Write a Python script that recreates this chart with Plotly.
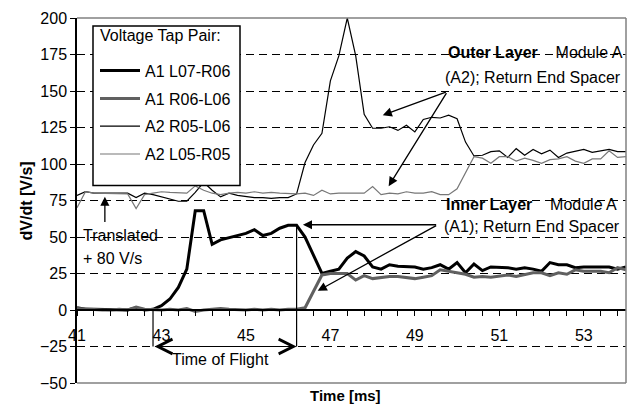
import plotly.graph_objects as go

# ---------------- data ----------------
time_ms = [round(41 + 0.2 * i, 1) for i in range(66)]   # sample times, 0.2 ms grid

a1_l07_r06 = [1.5, 0.5, 0.5, 0.5, 0, 0, 0, 1.5, 0, 0.5,
              3, 7.5, 15.5, 28, 68, 68, 45, 48, 49.5, 51.5,
              52.5, 55, 51, 52.5, 56, 58, 58, 50, 37, 25,
              26.5, 28, 35.5, 40, 37, 29.5, 28, 31, 30, 29.5,
              29.5, 28, 29, 31, 28, 32.5, 25.5, 31.5, 27, 29.5,
              29.5, 29, 28, 29, 28, 26.5, 32.5, 31, 31, 29,
              29.5, 29.5, 29.5, 29.5, 28, 29.5]

a1_r06_l06 = [1, 0.5, 0, 0, 0, 0.5, 0, 2, 0.5, 0,
              0, 0.5, 0, 1, -1, 0, 0.5, 1, 0.5, 0,
              0, 0.5, 0, 0.5, 0, 0.5, 0.5, 1.5, 13, 24,
              25, 25, 25, 20.5, 23.5, 21.5, 22.5, 23, 23, 22.5,
              21.5, 22.5, 23.5, 27.5, 26.5, 25, 24.5, 22.5, 23, 22.5,
              23.5, 24, 23, 24.5, 25.5, 25.5, 23.5, 25.5, 24.5, 27.5,
              26.5, 26.5, 26.5, 25.5, 29, 27.5]

a2_r05_l06 = [78.5, 81, 80, 80, 80, 80, 80, 77, 80, 79,
              77.5, 76, 74.5, 74.5, 80.5, 87.5, 82, 77.5, 80, 78.5,
              77.5, 77, 77, 76.5, 77, 77, 79.5, 101, 113, 121,
              157, 174, 200, 174, 134, 124.5, 124.5, 125.5, 123, 126.5,
              122, 130.5, 132, 131.5, 133.5, 131, 115, 105.5, 106, 108.5,
              109, 104.5, 110.5, 106, 110, 107, 109.5, 104.5, 107.5, 108.5,
              110, 108, 109, 110, 108.5, 108.5]

a2_l05_r05 = [70, 81, 80, 80, 80, 80, 79.5, 69.5, 79, 80,
              81, 80.5, 80, 80, 85, 82, 80, 79, 80, 80.5,
              80, 81, 80, 80.5, 80, 79.5, 79.5, 80, 78.5, 82,
              79.5, 80, 80, 80, 80, 84.5, 79, 80, 79.5, 81,
              80, 80, 81, 79, 79, 83, 94.5, 105, 104, 100.5,
              105, 105, 102, 104, 102.5, 100.5, 103, 103.5, 105, 102,
              100.5, 103.5, 103.5, 109, 104.5, 105]

series_names = ["A1 L07-R06", "A1 R06-L06", "A2 R05-L06", "A2 L05-R05"]
series_values = [a1_l07_r06, a1_r06_l06, a2_r05_l06, a2_l05_r05]
series_colors = ["#000000", "#606060", "#000000", "#777777"]
series_widths = [3, 3, 1.2, 1.2]

x_ticks_major = 2
y_ticks_major = 25

FONT = "Arial, Liberation Sans, sans-serif"

fig = go.Figure()
for i, (name, vals, col, w) in enumerate(zip(series_names, series_values, series_colors, series_widths)):
    fig.add_trace(go.Scatter(
        x=time_ms, y=vals, name=name, mode="lines",
        line=dict(color=col, width=w),
        legendgroup=f"g{i}",
    ))

def txt(x, y, s, xanchor="left", xref="x", yref="y", **kw):
    d = dict(x=x, y=y, xref=xref, yref=yref, xanchor=xanchor, yanchor="middle",
             text=s, showarrow=False, font=dict(size=16, color="black", family=FONT))
    d.update(kw)
    return d

annotations = [
    txt(49.73, 176.2, "<b>Outer Layer</b>    Module A"),
    txt(49.67, 159.2, "(A2); Return End Spacer"),
    txt(49.69, 72.2, "<b>Inner Layer</b>    Module A"),
    txt(49.65, 57.3, "(A1); Return End Spacer"),
    txt(41.09, 51.2, "Translated"),
    txt(41.09, 35.5, "+ 80 V/s"),
    txt(44.4, -34, "Time of Flight", xanchor="center"),
    # legend heading
    txt((98 - 77) / 549, (383 - 33) / 368, "Voltage Tap Pair:", xref="paper", yref="paper"),
]

def arrow(hx, hy, tx, ty, head=2, size=1.4, width=1.3, side="end"):
    return dict(x=hx, y=hy, ax=tx, ay=ty, xref="x", yref="y", axref="x", ayref="y",
                text="", showarrow=True, arrowhead=head, startarrowhead=head,
                arrowsize=size, startarrowsize=size, arrowwidth=width, arrowcolor="black",
                arrowside=side, standoff=0, startstandoff=0)

annotations += [
    arrow(48.24, 133.4, 49.77, 149.6),
    arrow(48.38, 84.8, 49.77, 149.6),
    arrow(46.35, 58.4, 49.54, 58.4),
    arrow(46.70, 13.1, 49.54, 58.4),
    arrow(41.66, 77.6, 41.66, 59.3),
    arrow(46.2, -25, 42.8, -25, head=5, size=2.9, width=1.0, side="end+start"),
]

# axis titles
annotations.append(dict(x=(26 - 77) / 549, y=(383 - 200) / 368, xref="paper", yref="paper",
                        text="<b>dV/dt [V/s]</b>", textangle=-90, showarrow=False,
                        xanchor="center", yanchor="middle",
                        font=dict(size=16, color="black", family=FONT)))
annotations.append(dict(x=(345 - 77) / 549, y=(383 - 396) / 368, xref="paper", yref="paper",
                        text="<b>Time [ms]</b>", showarrow=False,
                        xanchor="center", yanchor="middle",
                        font=dict(size=15, color="black", family=FONT)))

shapes = [
    dict(type="line", xref="paper", yref="paper", x0=0, x1=1, y0=1, y1=1,
         line=dict(color="#808080", width=1.5), layer="above"),
    dict(type="line", xref="paper", yref="paper", x0=1, x1=1, y0=0, y1=1,
         line=dict(color="#808080", width=1.5), layer="above"),
    dict(type="line", xref="paper", yref="paper", x0=0, x1=1, y0=0, y1=0,
         line=dict(color="#808080", width=1.5), layer="above"),
    # legend box
    dict(type="rect", xref="paper", yref="paper",
         x0=(93 - 77) / 549, x1=(240 - 77) / 549, y0=(383 - 184) / 368, y1=(383 - 23) / 368,
         line=dict(color="black", width=1.5), fillcolor="white", layer="above"),
    # time of flight vertical markers
    dict(type="line", xref="x", yref="y", x0=42.8, x1=42.8, y0=0, y1=-25,
         line=dict(color="black", width=1.2)),
    dict(type="line", xref="x", yref="y", x0=46.2, x1=46.2, y0=58, y1=-25,
         line=dict(color="black", width=1.2)),
]

fig.update_layout(
    width=636, height=417,
    margin=dict(l=77, r=10, t=15, b=34),
    paper_bgcolor="white", plot_bgcolor="white",
    font=dict(family=FONT, size=16, color="black"),
    showlegend=True,
    legend=dict(
        x=(95 - 77) / 549, y=(383 - 51) / 368, xanchor="left", yanchor="top",
        bgcolor="rgba(0,0,0,0)", borderwidth=0,
        font=dict(size=16, family=FONT, color="black"),
        tracegroupgap=4, itemwidth=40,
    ),
    xaxis=dict(
        range=[41, 54], tick0=41, dtick=x_ticks_major,
        ticks="outside", ticklen=5, tickcolor="black", tickwidth=1,
        showline=True, linecolor="black", linewidth=1.5,
        showgrid=False, zeroline=False,
        anchor="free", position=0.2,
        tickfont=dict(size=16, family=FONT, color="black"),
        ticklabelstandoff=6,
        minor=dict(dtick=0.4, tick0=41, ticks="outside", ticklen=5, tickcolor="black", showgrid=False),
    ),
    yaxis=dict(
        range=[-50, 200], tick0=0, dtick=y_ticks_major,
        ticks="outside", ticklen=5, tickcolor="black",
        showline=True, linecolor="black", linewidth=1.5,
        showgrid=True, gridcolor="black", gridwidth=1, griddash="8px,5px",
        zeroline=False,
        tickfont=dict(size=16, family=FONT, color="black"),
    ),
    annotations=annotations,
    shapes=shapes,
)

fig.write_html("out.html")
